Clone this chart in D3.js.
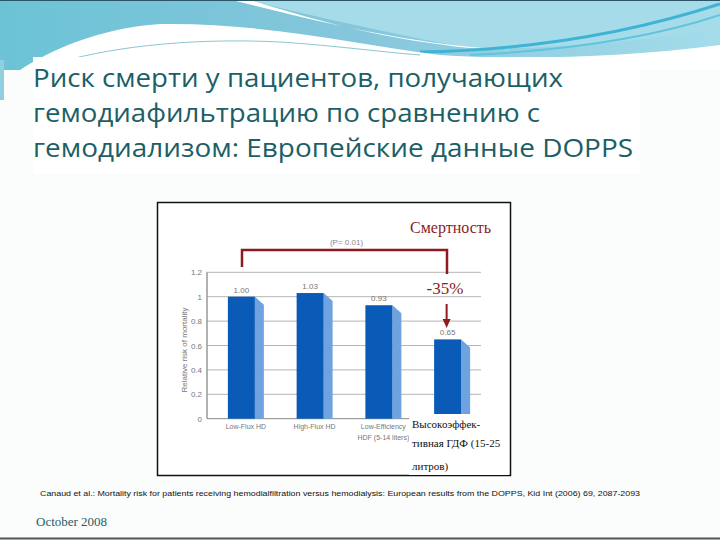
<!DOCTYPE html>
<html>
<head>
<meta charset="utf-8">
<script src="https://cdn.jsdelivr.net/npm/d3@7"></script>
<style>
  body { margin: 0; background: #fff; }
  svg { display: block; }
</style>
</head>
<body>
<div id="container"></div>
<script>
// Data
var categories = ["Low-Flux HD", "High-Flux HD", "Low-Efficiency HDF (5-14 liters)", "Высокоэффективная ГДФ (15-25 литров)"];
var catLines = [["Low-Flux HD"], ["High-Flux HD"], ["Low-Efficiency", "HDF (5-14 liters)"], []];
var values = [1.00, 1.03, 0.93, 0.65];
var valueLabels = ["1.00", "1.03", "0.93", "0.65"];
var yTicks = [0, 0.2, 0.4, 0.6, 0.8, 1, 1.2];
var yTickLabels = ["0", "0.2", "0.4", "0.6", "0.8", "1", "1.2"];
var hdfLines = ["Высокоэффек-", "тивная ГДФ (15-25", "литров)"];
var titleLines = ["Риск смерти у пациентов, получающих", "гемодиафильтрацию по сравнению с", "гемодиализом: Европейские данные DOPPS"];
var citation = "Canaud et al.: Mortality risk for patients receiving hemodialfiltration versus hemodialysis: European results from the DOPPS, Kid Int (2006) 69, 2087-2093";

var W = 720, H = 540;
var svg = d3.select("#container").append("svg").attr("width", W).attr("height", H);

// Slide background
var defs = svg.append("defs");
var g1 = defs.append("linearGradient").attr("id", "band").attr("x1", "0").attr("x2", "1").attr("y1", "0").attr("y2", "0");
g1.append("stop").attr("offset", "0").attr("stop-color", "#6cc3d6");
g1.append("stop").attr("offset", "0.5").attr("stop-color", "#86c6dc");
g1.append("stop").attr("offset", "1").attr("stop-color", "#a4dcea");

svg.append("rect").attr("width", W).attr("height", H).attr("fill", "#fbfcfc");
svg.append("rect").attr("width", W).attr("height", 70).attr("fill", "url(#band)");
// upper right light area
svg.append("path").attr("d", "M245,0 L720,0 L720,30 C640,40 560,50 470,48 C420,40 330,20 245,0 Z").attr("fill", "#a6dbe9");
// white diagonal streak
svg.append("path").attr("d", "M232,0 L250,0 C320,22 390,40 470,48 L520,50 C430,48 330,25 232,0 Z").attr("fill", "#ffffff");
// cyan streaks at right
svg.append("path").attr("d", "M420,52 C540,50 640,30 720,4").attr("fill", "none").attr("stroke", "#3fb3d4").attr("stroke-width", 3);
svg.append("path").attr("d", "M470,55 C580,50 660,35 720,15").attr("fill", "none").attr("stroke", "#5fc4dc").attr("stroke-width", 2);
// white swoosh
svg.append("path").attr("d", "M20,70 C50,50 100,28 160,24 C260,22 360,45 440,55 C520,60 620,58 720,45 L720,70 Z").attr("fill", "#ffffff");
svg.append("path").attr("d", "M60,62 C120,45 200,38 280,42 C340,46 380,52 420,55").attr("fill", "none").attr("stroke", "#8ac6d0").attr("stroke-width", 1);
svg.append("rect").attr("x", 0).attr("y", 70).attr("width", W).attr("height", H - 70).attr("fill", "#fbfcfc");
svg.append("rect").attr("x", 0).attr("y", 60).attr("width", 4).attr("height", 40).attr("fill", "#8fd0de");
svg.append("line").attr("x1", 0).attr("x2", W).attr("y1", 0.5).attr("y2", 0.5).attr("stroke", "#2b5566");
svg.append("line").attr("x1", 0).attr("x2", W).attr("y1", 538.5).attr("y2", 538.5).attr("stroke", "#555").attr("stroke-width", 2);

// Title box
svg.append("rect").attr("x", 33).attr("y", 57).attr("width", 607).attr("height", 117).attr("fill", "#ffffff");
var titleWidths = [530, 507, 600];
svg.selectAll("text.title").data(titleLines).enter().append("text")
  .attr("class", "title")
  .attr("x", 33)
  .attr("y", function(d, i) { return 87 + i * 35; })
  .attr("textLength", function(d, i) { return titleWidths[i]; })
  .attr("lengthAdjust", "spacingAndGlyphs")
  .attr("font-family", "Open Sans, sans-serif")
  .attr("font-size", 26)
  .attr("fill", "#1c5f66")
  .text(function(d) { return d; });

// Chart box
svg.append("rect").attr("x", 157.5).attr("y", 202.5).attr("width", 353).attr("height", 273)
  .attr("fill", "#ffffff").attr("stroke", "#111").attr("stroke-width", 1.5);

var x = d3.scaleBand().domain(categories).range([207, 482]);
var y = d3.scaleLinear().domain([0, 1.2]).range([418.7, 272.3]);
var frontW = 27, sideW = 9, sideDrop = 8;
function barX(d) { return x(d) + x.bandwidth() / 2 - frontW / 2; }

// Gridlines
svg.selectAll("line.grid").data(yTicks).enter().append("line")
  .attr("x1", 207).attr("x2", 481)
  .attr("y1", function(d) { return y(d); }).attr("y2", function(d) { return y(d); })
  .attr("stroke", function(d) { return d === 0 ? "#888" : "#b4b4b4"; })
  .attr("stroke-width", 1);
svg.append("line").attr("x1", 207).attr("x2", 207).attr("y1", y(1.2)).attr("y2", y(0))
  .attr("stroke", "#999").attr("stroke-width", 1.5);

// Y tick labels
svg.selectAll("text.ytick").data(yTicks).enter().append("text")
  .attr("x", 202)
  .attr("y", function(d) { return y(d) + 3; })
  .attr("text-anchor", "end")
  .attr("font-family", "Liberation Sans, Arial, sans-serif")
  .attr("font-size", 8)
  .attr("fill", "#777")
  .text(function(d, i) { return yTickLabels[i]; });

svg.append("text")
  .attr("transform", "translate(187,350) rotate(-90)")
  .attr("text-anchor", "middle")
  .attr("font-family", "Liberation Sans, Arial, sans-serif")
  .attr("font-size", 8)
  .attr("fill", "#777")
  .text("Relative risk of mortality");

// Bars: side face then front
svg.selectAll("path.side").data(categories).enter().append("path")
  .attr("d", function(d, i) {
    var x0 = barX(d) + frontW, yt = y(values[i]), yb = y(0);
    return "M" + x0 + "," + yt + " L" + (x0 + sideW) + "," + (yt + sideDrop) + " L" + (x0 + sideW) + "," + yb + " L" + x0 + "," + yb + " Z";
  })
  .attr("fill", "#6fa3e0");
svg.selectAll("rect.bar").data(categories).enter().append("rect")
  .attr("x", function(d) { return barX(d); })
  .attr("y", function(d, i) { return y(values[i]); })
  .attr("width", frontW)
  .attr("height", function(d, i) { return y(0) - y(values[i]); })
  .attr("fill", "#0a5ab8");

// Value labels
svg.selectAll("text.val").data(categories).enter().append("text")
  .attr("x", function(d) { return barX(d) + frontW / 2; })
  .attr("y", function(d, i) { return y(values[i]) - 4; })
  .attr("text-anchor", "middle")
  .attr("font-family", "Liberation Sans, Arial, sans-serif")
  .attr("font-size", 8)
  .attr("fill", "#777")
  .text(function(d, i) { return valueLabels[i]; });

// Category labels
categories.forEach(function(c, i) {
  catLines[i].forEach(function(t, j) {
    svg.append("text")
      .attr("x", barX(c) + (frontW + sideW) / 2)
      .attr("y", 429 + j * 11)
      .attr("text-anchor", "middle")
      .attr("font-family", "Liberation Sans, Arial, sans-serif")
      .attr("font-size", 7)
      .attr("fill", "#777")
      .text(t);
  });
});

// Fourth label, Russian
svg.append("rect").attr("x", 409).attr("y", 414).attr("width", 100).attr("height", 61).attr("fill", "#ffffff");
svg.selectAll("text.hdf").data(hdfLines).enter().append("text")
  .attr("x", 412)
  .attr("y", function(d, i) { return [428, 447, 470][i]; })
  .attr("font-family", "Liberation Serif, serif")
  .attr("font-size", 11)
  .attr("fill", "#111")
  .text(function(d) { return d; });

// Bracket and annotations
var red = "#8c1c22";
var xl = 242, xr = 447;
svg.append("path")
  .attr("d", "M" + xl + ",267 L" + xl + ",250 L" + xr + ",250 L" + xr + ",274")
  .attr("fill", "none").attr("stroke", red).attr("stroke-width", 2.5);
svg.append("text").attr("x", (xl + xr) / 2 + 2).attr("y", 245)
  .attr("text-anchor", "middle")
  .attr("font-family", "Liberation Sans, Arial, sans-serif")
  .attr("font-size", 8).attr("fill", "#888")
  .text("(P= 0.01)");
svg.append("text").attr("x", 410).attr("y", 233)
  .attr("font-family", "Liberation Serif, serif")
  .attr("font-size", 16).attr("fill", red)
  .text("Смертность");
svg.append("text").attr("x", 445).attr("y", 294)
  .attr("text-anchor", "middle")
  .attr("font-family", "Liberation Serif, serif")
  .attr("font-size", 17).attr("fill", red)
  .text("-35%");
var ax = barX(categories[3]) + frontW / 2 - 1;
svg.append("line").attr("x1", ax).attr("x2", ax).attr("y1", 304).attr("y2", 320)
  .attr("stroke", red).attr("stroke-width", 2);
svg.append("path").attr("d", "M" + (ax - 4) + ",319 L" + (ax + 4) + ",319 L" + ax + ",328 Z").attr("fill", red);

// Citation and date
svg.append("text").attr("x", 40).attr("y", 496)
  .attr("textLength", 600).attr("lengthAdjust", "spacingAndGlyphs")
  .attr("font-family", "Liberation Sans, Arial, sans-serif")
  .attr("font-size", 8).attr("fill", "#111")
  .text(citation);
svg.append("text").attr("x", 36).attr("y", 526)
  .attr("font-family", "Liberation Serif, serif")
  .attr("font-size", 13).attr("fill", "#1c5f66")
  .text("October 2008");
</script>
</body>
</html>
